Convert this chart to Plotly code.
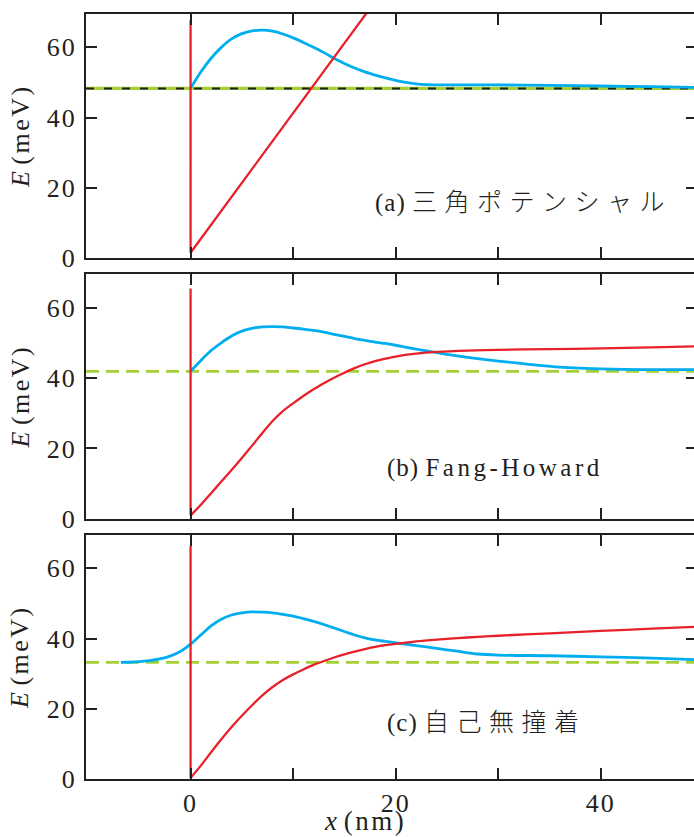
import plotly.graph_objects as go

# ---------------- data ----------------
X_MIN, X_MAX = -10.2, 49.1
E_MAX = 69.5

# eigen-energy levels (meV)
level_a = 48.3
level_b = 41.9
level_c = 33.2

# (a) triangular potential
pot_a_x = [0, 0, 17.6]
pot_a_y = [67.7, 1.5, 71.5]
wf_a_x = [0, 1, 2, 3, 4, 5, 6, 7, 8, 9, 10, 11, 12, 13, 14, 15, 16, 17, 18, 19, 20,
          21, 22, 23, 25, 30, 35, 40, 45, 49.1]
wf_a_y = [48.4, 53.0, 56.9, 60.0, 62.4, 63.9, 64.7, 64.9, 64.6, 63.8, 62.7, 61.4, 60.0,
          58.5, 56.9, 55.4, 54.1, 53.0, 52.1, 51.3, 50.6, 50.0, 49.6, 49.4, 49.3, 49.3,
          49.2, 49.0, 48.8, 48.6]

# (b) Fang-Howard
pot_b_x = [0, 0, 1, 2, 3, 4, 5, 6, 7, 8, 9, 10, 11, 12, 13, 14, 15, 16, 17, 18, 19, 20,
           22, 24, 27, 30, 35, 40, 45, 49.1]
pot_b_y = [65.4, 1.0, 4.0, 7.3, 10.6, 13.9, 17.3, 20.8, 24.4, 27.8, 30.6, 32.8, 34.9,
           36.8, 38.5, 40.1, 41.5, 42.8, 43.9, 44.8, 45.5, 46.1, 46.9, 47.4, 47.8, 48.0,
           48.2, 48.4, 48.7, 49.0]
wf_b_x = [0, 1, 2, 3, 4, 5, 6, 7, 8, 9, 10, 11, 12, 13, 14, 15, 16, 17, 18, 19, 20,
          22, 24, 26, 28, 30, 32, 34, 36, 38, 40, 44, 49.1]
wf_b_y = [41.9, 45.0, 47.8, 50.0, 51.9, 53.3, 54.1, 54.5, 54.6, 54.5, 54.2, 53.9, 53.5,
          53.0, 52.4, 51.8, 51.2, 50.7, 50.2, 49.8, 49.3, 48.2, 47.2, 46.3, 45.5, 44.8,
          44.2, 43.6, 43.1, 42.8, 42.6, 42.4, 42.4]

# (c) self-consistent
pot_c_x = [0, 0, 1, 2, 3, 4, 5, 6, 7, 8, 9, 10, 11, 12, 13, 14, 15, 16, 17, 18, 19, 20,
           22, 24, 26, 28, 30, 35, 40, 45, 49.1]
pot_c_y = [66.4, 0.3, 3.8, 7.6, 11.3, 14.8, 18.0, 21.0, 23.8, 26.2, 28.2, 29.8, 31.2,
           32.5, 33.6, 34.6, 35.5, 36.3, 37.0, 37.6, 38.1, 38.5, 39.2, 39.7, 40.1, 40.5,
           40.8, 41.5, 42.2, 42.8, 43.3]
wf_c_x = [-6.8, -6, -5, -4, -3, -2, -1, 0, 1, 2, 3, 4, 5, 6, 7, 8, 9, 10, 11, 12, 13,
          14, 15, 16, 17, 18, 19, 20, 22, 24, 26, 28, 30, 35, 40, 45, 49.1]
wf_c_y = [33.2, 33.25, 33.4, 33.7, 34.2, 35.0, 36.3, 38.4, 41.0, 43.6, 45.5, 46.7, 47.3,
          47.6, 47.5, 47.3, 46.9, 46.4, 45.7, 44.9, 44.0, 43.0, 42.0, 41.0, 40.2, 39.6,
          39.2, 38.8, 38.0, 37.2, 36.4, 35.6, 35.3, 35.1, 34.8, 34.4, 34.0]

y_ticks = [0, 20, 40, 60]
y_tick_text = ["0", "20", "40", "60"]
x_ticks = [0, 10, 20, 30, 40]
x_tick_text = ["0", "", "20", "", "40"]

panel_labels = ["(a) 三角ポテンシャル", "(b) Fang-Howard", "(c) 自己無撞着"]

# ---------------- style ----------------
RED = "#e8202a"
BLUE = "#00aeef"
GREEN = "#a6ce39"
INK = "#231f20"
SERIF = "Liberation Serif"

W, H = 694, 837
ML, MT, MB = 86, 14, 58
domains = [[0.681, 1.0], [0.340, 0.660], [0.0, 0.319]]

def spaced(t, px):
    return "<span style='letter-spacing:%spx'>%s</span>" % (px, t)

fig = go.Figure()

def line(x, y, color, width, dash="solid", axis=1, shape="linear"):
    sfx = "" if axis == 1 else str(axis)
    fig.add_trace(go.Scatter(x=x, y=y, mode="lines",
                             line=dict(color=color, width=width, dash=dash,
                                       shape=shape, smoothing=0.8),
                             xaxis="x" + sfx, yaxis="y" + sfx,
                             hoverinfo="skip", showlegend=False))

# panel a
line([X_MIN, X_MAX], [level_a, level_a], GREEN, 3.2, axis=1)
line([X_MIN, X_MAX], [level_a, level_a], INK, 2, dash="8px,10px", axis=1)
line(wf_a_x, wf_a_y, BLUE, 2.8, axis=1, shape="spline")
line(pot_a_x, pot_a_y, RED, 2.3, axis=1)
# panel b
line([X_MIN, X_MAX], [level_b, level_b], GREEN, 2.8, dash="13px,7px", axis=2)
line(wf_b_x, wf_b_y, BLUE, 2.8, axis=2, shape="spline")
line(pot_b_x[:2], pot_b_y[:2], RED, 2.3, axis=2)
line(pot_b_x[1:], pot_b_y[1:], RED, 2.3, axis=2, shape="spline")
# panel c
line([X_MIN, X_MAX], [level_c, level_c], GREEN, 2.8, dash="13px,7px", axis=3)
line(wf_c_x, wf_c_y, BLUE, 2.8, axis=3, shape="spline")
line(pot_c_x[:2], pot_c_y[:2], RED, 2.3, axis=3)
line(pot_c_x[1:], pot_c_y[1:], RED, 2.3, axis=3, shape="spline")

tickfont = dict(family=SERIF, size=26, color=INK)
layout = dict(width=W, height=H, margin=dict(l=ML, r=0, t=MT, b=MB),
              paper_bgcolor="white", plot_bgcolor="white", showlegend=False,
              font=dict(family=SERIF, color=INK))

for i in range(3):
    sfx = "" if i == 0 else str(i + 1)
    last = (i == 2)
    layout["xaxis" + sfx] = dict(
        range=[X_MIN, X_MAX], anchor="y" + sfx, domain=[0, 1],
        showline=True, linecolor=INK, linewidth=2, mirror="ticks",
        ticks="inside", ticklen=11, tickwidth=2, tickcolor=INK,
        tickvals=x_ticks, ticktext=[spaced(t, 2) for t in x_tick_text],
        showticklabels=last, tickfont=tickfont, ticklabelstandoff=0,
        showgrid=False, zeroline=False, fixedrange=True,
    )
    layout["yaxis" + sfx] = dict(
        range=[0, E_MAX], anchor="x" + sfx, domain=domains[i],
        showline=True, linecolor=INK, linewidth=2, mirror=False,
        ticks="inside", ticklen=11, tickwidth=2, tickcolor=INK,
        tickvals=y_ticks, ticktext=[spaced(t, 2) for t in y_tick_text],
        tickfont=tickfont, ticklabelstandoff=2,
        showgrid=False, zeroline=False, fixedrange=True,
    )
    layout["yaxis" + str(i + 4)] = dict(
        range=[0, E_MAX], overlaying="y" + sfx, anchor="x" + sfx, side="right",
        showline=False, ticks="inside", ticklen=8, tickwidth=2, tickcolor=INK,
        tickvals=y_ticks, showticklabels=False,
        showgrid=False, zeroline=False, fixedrange=True,
    )

fig.update_layout(**layout)

for i in range(3):
    sfx = "" if i == 0 else str(i + 1)
    fig.add_trace(go.Scatter(x=[None], y=[None], xaxis="x" + sfx, yaxis="y" + str(i + 4),
                             showlegend=False, hoverinfo="skip"))

plot_w = W - ML
ann = []
for i in range(3):
    sfx = "" if i == 0 else str(i + 1)
    ann.append(dict(text="<i>E</i> " + spaced("(meV)", 2.5),
                    textangle=-90, xref="paper",
                    x=(20 - ML) / plot_w, xanchor="center",
                    yref="y" + sfx + " domain", y=0.5, yanchor="middle",
                    showarrow=False, font=dict(family=SERIF, size=26, color=INK)))

label_pos = [(17.8, 16.5), (19.0, 14.4), (19.0, 16.9)]
for i, (t, (lx, ly)) in enumerate(zip(panel_labels, label_pos)):
    sfx = "" if i == 0 else str(i + 1)
    head, tail = t.split(" ", 1)
    if i == 1:
        txt = spaced(head, 1) + " " + spaced(tail, 3.5)
        fnt = dict(family=SERIF, size=25, color=INK)
    else:
        txt = spaced(head, 1) + " <span style='font-family:Noto Sans CJK JP;font-weight:300;letter-spacing:7.5px'>%s</span>" % tail
        fnt = dict(family=SERIF, size=25, color=INK)
    ann.append(dict(text=txt, xref="x" + sfx, yref="y" + sfx, x=lx, y=ly,
                    xanchor="left", yanchor="middle", showarrow=False, font=fnt))

ann.append(dict(text="<i>x</i> " + spaced("(nm)", 2.5), xref="x3", yref="paper",
                x=17.0, y=-0.0555, xanchor="center", yanchor="middle", showarrow=False,
                font=dict(family=SERIF, size=27, color=INK)))

fig.update_layout(annotations=ann)

fig.write_html("out.html", config={"displayModeBar": False, "staticPlot": True})
